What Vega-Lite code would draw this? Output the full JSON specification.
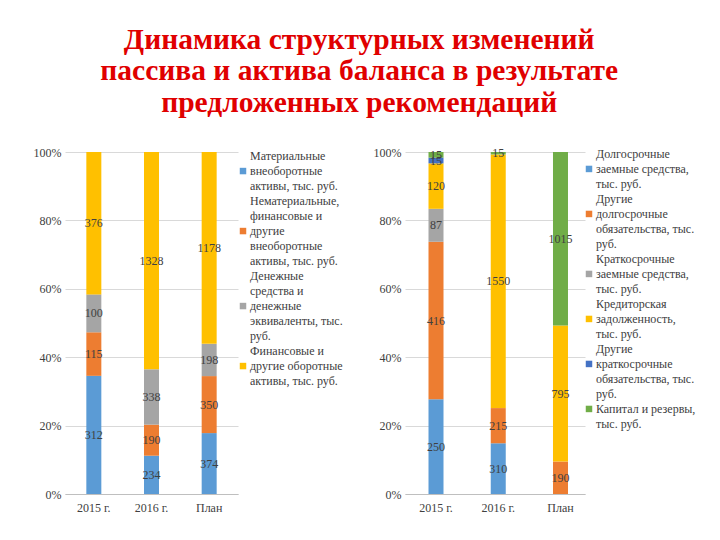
{
  "$schema": "https://vega.github.io/schema/vega-lite/v6.json",
  "background": "white",
  "padding": {"left": 33, "top": 24, "right": 2, "bottom": 2},
  "title": {
    "text": ["Динамика структурных изменений", "пассива и актива баланса в результате", "предложенных рекомендаций"],
    "font": "Liberation Serif", "fontSize": 29.5, "fontWeight": "bold", "color": "#E00000",
    "lineHeight": 31.5, "anchor": "middle", "offset": 28, "dx": -5
  },
  "config": {
    "view": {"stroke": null},
    "font": "Liberation Serif",
    "axis": {"labelFont": "Liberation Serif", "labelFontSize": 12, "labelColor": "#404040", "title": null, "ticks": false}
  },
  "resolve": {"scale": {"color": "independent", "x": "independent", "y": "independent"}},
  "spacing": 30,
  "hconcat": [
    {
      "resolve": {"scale": {"x": "independent", "y": "independent", "color": "shared"}},
      "spacing": 1,
      "hconcat": [
        {
          "width": 173, "height": 342,
          "data": {"values": [
            {"year": "2015 г.", "k": 1, "cat": "Материальные внеоборотные активы, тыс. руб.", "v": 312},
            {"year": "2015 г.", "k": 2, "cat": "Нематериальные, финансовые и другие внеоборотные активы, тыс. руб.", "v": 115},
            {"year": "2015 г.", "k": 3, "cat": "Денежные средства и денежные эквиваленты, тыс. руб.", "v": 100},
            {"year": "2015 г.", "k": 4, "cat": "Финансовые и другие оборотные активы, тыс. руб.", "v": 376},
            {"year": "2016 г.", "k": 1, "cat": "Материальные внеоборотные активы, тыс. руб.", "v": 234},
            {"year": "2016 г.", "k": 2, "cat": "Нематериальные, финансовые и другие внеоборотные активы, тыс. руб.", "v": 190},
            {"year": "2016 г.", "k": 3, "cat": "Денежные средства и денежные эквиваленты, тыс. руб.", "v": 338},
            {"year": "2016 г.", "k": 4, "cat": "Финансовые и другие оборотные активы, тыс. руб.", "v": 1328},
            {"year": "План", "k": 1, "cat": "Материальные внеоборотные активы, тыс. руб.", "v": 374},
            {"year": "План", "k": 2, "cat": "Нематериальные, финансовые и другие внеоборотные активы, тыс. руб.", "v": 350},
            {"year": "План", "k": 3, "cat": "Денежные средства и денежные эквиваленты, тыс. руб.", "v": 198},
            {"year": "План", "k": 4, "cat": "Финансовые и другие оборотные активы, тыс. руб.", "v": 1178}
          ]},
          "transform": [
            {"stack": "v", "groupby": ["year"], "sort": [{"field": "k", "order": "ascending"}], "offset": "normalize", "as": ["y0", "y1"]},
            {"calculate": "(datum.y0 + datum.y1) / 2", "as": "ym"}
          ],
          "encoding": {
            "x": {"field": "year", "type": "nominal", "sort": ["2015 г.", "2016 г.", "План"],
                  "scale": {"paddingInner": 0.74, "paddingOuter": 0.37},
                  "axis": {"labelAngle": 0, "domainColor": "#BFBFBF", "labelPadding": 8, "grid": false}}
          },
          "layer": [
            {
              "mark": {"type": "bar", "width": 15},
              "encoding": {
                "y": {"field": "y0", "type": "quantitative", "scale": {"domain": [0, 1]},
                      "axis": {"format": "%", "values": [0, 0.2, 0.4, 0.6, 0.8, 1], "labelOverlap": false, "domain": false, "gridColor": "#D9D9D9", "labelPadding": 4}},
                "y2": {"field": "y1"},
                "color": {"field": "cat", "type": "nominal", "legend": null,
                          "scale": {"domain": ["Материальные внеоборотные активы, тыс. руб.", "Нематериальные, финансовые и другие внеоборотные активы, тыс. руб.", "Денежные средства и денежные эквиваленты, тыс. руб.", "Финансовые и другие оборотные активы, тыс. руб."],
                                    "range": ["#5B9BD5", "#ED7D31", "#A5A5A5", "#FFC000"]}}
              }
            },
            {
              "mark": {"type": "text", "font": "Liberation Serif", "fontSize": 12, "color": "#404040"},
              "encoding": {
                "y": {"field": "ym", "type": "quantitative"},
                "text": {"field": "v", "type": "quantitative"}
              }
            }
          ]
        },
        {
          "width": 6, "height": 342,
          "data": {"values": [
            {"n": 1, "line": "Материальные"},
            {"n": 2, "line": "внеоборотные"},
            {"n": 3, "line": "активы, тыс. руб."},
            {"n": 4, "line": "Нематериальные,"},
            {"n": 5, "line": "финансовые и"},
            {"n": 6, "line": "другие"},
            {"n": 7, "line": "внеоборотные"},
            {"n": 8, "line": "активы, тыс. руб."},
            {"n": 9, "line": "Денежные"},
            {"n": 10, "line": "средства и"},
            {"n": 11, "line": "денежные"},
            {"n": 12, "line": "эквиваленты, тыс."},
            {"n": 13, "line": "руб."},
            {"n": 14, "line": "Финансовые и"},
            {"n": 15, "line": "другие оборотные"},
            {"n": 16, "line": "активы, тыс. руб."},
            {"n": 2, "cat": "Материальные внеоборотные активы, тыс. руб."},
            {"n": 6, "cat": "Нематериальные, финансовые и другие внеоборотные активы, тыс. руб."},
            {"n": 11, "cat": "Денежные средства и денежные эквиваленты, тыс. руб."},
            {"n": 15, "cat": "Финансовые и другие оборотные активы, тыс. руб."}
          ]},
          "encoding": {
            "y": {"field": "n", "type": "quantitative", "axis": null,
                  "scale": {"domain": [0.73, 23.53], "reverse": true, "zero": false, "nice": false}}
          },
          "layer": [
            {
              "transform": [{"filter": "datum.line != null"}],
              "mark": {"type": "text", "font": "Liberation Serif", "fontSize": 12, "color": "#404040", "align": "left", "baseline": "middle", "dx": 7},
              "encoding": {"text": {"field": "line", "type": "nominal"}}
            },
            {
              "transform": [{"filter": "datum.cat != null"}],
              "mark": {"type": "square", "size": 42, "opacity": 1, "filled": true},
              "encoding": {
                "color": {"field": "cat", "type": "nominal", "legend": null,
                          "scale": {"domain": ["Материальные внеоборотные активы, тыс. руб.", "Нематериальные, финансовые и другие внеоборотные активы, тыс. руб.", "Денежные средства и денежные эквиваленты, тыс. руб.", "Финансовые и другие оборотные активы, тыс. руб."],
                                    "range": ["#5B9BD5", "#ED7D31", "#A5A5A5", "#FFC000"]}}
              }
            }
          ]
        }
      ]
    },
    {
      "resolve": {"scale": {"x": "independent", "y": "independent", "color": "shared"}},
      "spacing": 0,
      "hconcat": [
        {
          "width": 180, "height": 342,
          "data": {"values": [
            {"year": "2015 г.", "k": 1, "cat": "Долгосрочные заемные средства, тыс. руб.", "v": 250},
            {"year": "2015 г.", "k": 2, "cat": "Другие долгосрочные обязательства, тыс. руб.", "v": 416},
            {"year": "2015 г.", "k": 3, "cat": "Краткосрочные заемные средства, тыс. руб.", "v": 87},
            {"year": "2015 г.", "k": 4, "cat": "Кредиторская задолженность, тыс. руб.", "v": 120},
            {"year": "2015 г.", "k": 5, "cat": "Другие краткосрочные обязательства, тыс. руб.", "v": 15},
            {"year": "2015 г.", "k": 6, "cat": "Капитал и резервы, тыс. руб.", "v": 15},
            {"year": "2016 г.", "k": 1, "cat": "Долгосрочные заемные средства, тыс. руб.", "v": 310},
            {"year": "2016 г.", "k": 2, "cat": "Другие долгосрочные обязательства, тыс. руб.", "v": 215},
            {"year": "2016 г.", "k": 4, "cat": "Кредиторская задолженность, тыс. руб.", "v": 1550},
            {"year": "2016 г.", "k": 6, "cat": "Капитал и резервы, тыс. руб.", "v": 15},
            {"year": "План", "k": 2, "cat": "Другие долгосрочные обязательства, тыс. руб.", "v": 190},
            {"year": "План", "k": 4, "cat": "Кредиторская задолженность, тыс. руб.", "v": 795},
            {"year": "План", "k": 6, "cat": "Капитал и резервы, тыс. руб.", "v": 1015}
          ]},
          "transform": [
            {"stack": "v", "groupby": ["year"], "sort": [{"field": "k", "order": "ascending"}], "offset": "normalize", "as": ["y0", "y1"]},
            {"calculate": "(datum.y0 + datum.y1) / 2", "as": "ym"}
          ],
          "encoding": {
            "x": {"field": "year", "type": "nominal", "sort": ["2015 г.", "2016 г.", "План"],
                  "scale": {"paddingInner": 0.76, "paddingOuter": 0.326, "align": 0.58},
                  "axis": {"labelAngle": 0, "domainColor": "#BFBFBF", "labelPadding": 8, "grid": false}}
          },
          "layer": [
            {
              "mark": {"type": "bar", "width": 15},
              "encoding": {
                "y": {"field": "y0", "type": "quantitative", "scale": {"domain": [0, 1]},
                      "axis": {"format": "%", "values": [0, 0.2, 0.4, 0.6, 0.8, 1], "labelOverlap": false, "domain": false, "gridColor": "#D9D9D9", "labelPadding": 4}},
                "y2": {"field": "y1"},
                "color": {"field": "cat", "type": "nominal", "legend": null,
                          "scale": {"domain": ["Долгосрочные заемные средства, тыс. руб.", "Другие долгосрочные обязательства, тыс. руб.", "Краткосрочные заемные средства, тыс. руб.", "Кредиторская задолженность, тыс. руб.", "Другие краткосрочные обязательства, тыс. руб.", "Капитал и резервы, тыс. руб."],
                                    "range": ["#5B9BD5", "#ED7D31", "#A5A5A5", "#FFC000", "#4472C4", "#70AD47"]}}
              }
            },
            {
              "mark": {"type": "text", "font": "Liberation Serif", "fontSize": 12, "color": "#404040"},
              "encoding": {
                "y": {"field": "ym", "type": "quantitative"},
                "text": {"field": "v", "type": "quantitative"}
              }
            }
          ]
        },
        {
          "width": 2, "height": 342,
          "data": {"values": [
            {"n": 1, "line": "Долгосрочные"},
            {"n": 2, "line": "заемные средства,"},
            {"n": 3, "line": "тыс. руб."},
            {"n": 4, "line": "Другие"},
            {"n": 5, "line": "долгосрочные"},
            {"n": 6, "line": "обязательства, тыс."},
            {"n": 7, "line": "руб."},
            {"n": 8, "line": "Краткосрочные"},
            {"n": 9, "line": "заемные средства,"},
            {"n": 10, "line": "тыс. руб."},
            {"n": 11, "line": "Кредиторская"},
            {"n": 12, "line": "задолженность,"},
            {"n": 13, "line": "тыс. руб."},
            {"n": 14, "line": "Другие"},
            {"n": 15, "line": "краткосрочные"},
            {"n": 16, "line": "обязательства, тыс."},
            {"n": 17, "line": "руб."},
            {"n": 18, "line": "Капитал и резервы,"},
            {"n": 19, "line": "тыс. руб."},
            {"n": 2, "cat": "Долгосрочные заемные средства, тыс. руб."},
            {"n": 5, "cat": "Другие долгосрочные обязательства, тыс. руб."},
            {"n": 9, "cat": "Краткосрочные заемные средства, тыс. руб."},
            {"n": 12, "cat": "Кредиторская задолженность, тыс. руб."},
            {"n": 15, "cat": "Другие краткосрочные обязательства, тыс. руб."},
            {"n": 18, "cat": "Капитал и резервы, тыс. руб."}
          ]},
          "encoding": {
            "y": {"field": "n", "type": "quantitative", "axis": null,
                  "scale": {"domain": [0.87, 23.67], "reverse": true, "zero": false, "nice": false}}
          },
          "layer": [
            {
              "transform": [{"filter": "datum.line != null"}],
              "mark": {"type": "text", "font": "Liberation Serif", "fontSize": 12, "color": "#404040", "align": "left", "baseline": "middle", "dx": 7},
              "encoding": {"text": {"field": "line", "type": "nominal"}}
            },
            {
              "transform": [{"filter": "datum.cat != null"}],
              "mark": {"type": "square", "size": 42, "opacity": 1, "filled": true},
              "encoding": {
                "color": {"field": "cat", "type": "nominal", "legend": null,
                          "scale": {"domain": ["Долгосрочные заемные средства, тыс. руб.", "Другие долгосрочные обязательства, тыс. руб.", "Краткосрочные заемные средства, тыс. руб.", "Кредиторская задолженность, тыс. руб.", "Другие краткосрочные обязательства, тыс. руб.", "Капитал и резервы, тыс. руб."],
                                    "range": ["#5B9BD5", "#ED7D31", "#A5A5A5", "#FFC000", "#4472C4", "#70AD47"]}}
              }
            }
          ]
        }
      ]
    }
  ]
}
